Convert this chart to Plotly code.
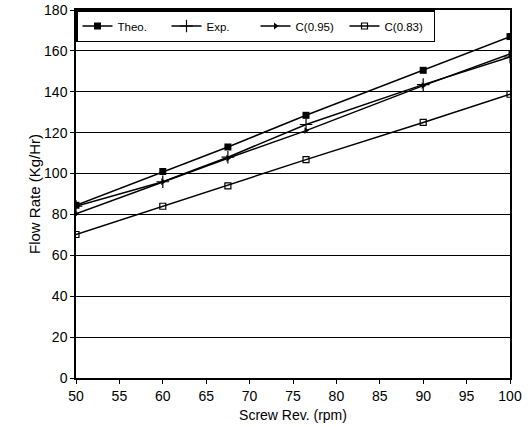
import plotly.graph_objects as go

# Screw speed (rpm) and measured / predicted flow rates (kg/hr)
screw_rpm = [50, 60, 67.5, 76.5, 90, 100]
theo = [84.5, 101, 113, 128.5, 150.5, 167]
exp = [84, 96, 108, 124, 143.5, 157]
c095 = [80.3, 96, 107.5, 121, 143, 158.5]
c083 = [70.2, 84, 94, 106.8, 125, 138.8]

x_ticks = [50, 55, 60, 65, 70, 75, 80, 85, 90, 95, 100]
y_ticks = [0, 20, 40, 60, 80, 100, 120, 140, 160, 180]

series = [
    ("Theo.", theo, dict(symbol="square", size=7, color="black")),
    ("Exp.", exp, dict(symbol="cross-thin", size=9, color="black",
                       line=dict(width=1.2, color="black"))),
    ("C(0.95)", c095, dict(symbol="triangle-right", size=6, color="black")),
    ("C(0.83)", c083, dict(symbol="square-open", size=6, color="black",
                           line=dict(width=1.2, color="black"))),
]

fig = go.Figure()
for name, vals, marker in series:
    fig.add_trace(go.Scatter(
        x=screw_rpm, y=vals, name=name, mode="lines+markers",
        line=dict(color="black", width=1.5), marker=marker,
    ))

FAMILY = "Liberation Sans, Arial, sans-serif"

fig.update_layout(
    width=532, height=427,
    margin=dict(l=76, r=22, t=10, b=49, autoexpand=False),
    paper_bgcolor="white", plot_bgcolor="white",
    font=dict(family=FAMILY, size=14, color="black"),
    showlegend=True,
    legend=dict(
        orientation="h", x=0, y=1, xanchor="left", yanchor="top",
        bgcolor="white", bordercolor="black", borderwidth=1.5,
        font=dict(family=FAMILY, size=11.5, color="black"),
        itemwidth=30, entrywidth=44, entrywidthmode="pixels",
    ),
    xaxis=dict(
        range=[50, 100], tickvals=x_ticks, ticktext=[str(v) for v in x_ticks],
        showgrid=False, zeroline=False, automargin=False,
        showline=True, linecolor="black", linewidth=1.5, mirror=True,
        ticks="outside", ticklen=4, tickcolor="black",
        tickfont=dict(size=14),
        title=dict(text="Screw Rev. (rpm)", standoff=8, font=dict(size=14)),
    ),
    yaxis=dict(
        range=[0, 180], tickvals=y_ticks, automargin=False,
        showgrid=True, gridcolor="black", gridwidth=1.4, zeroline=False,
        showline=True, linecolor="black", linewidth=1.5, mirror=True,
        ticks="outside", ticklen=4, tickcolor="black",
        tickfont=dict(size=14),
        title=dict(text="Flow Rate (Kg/Hr)", standoff=0, font=dict(size=15)),
    ),
)

fig.write_html("out.html")
